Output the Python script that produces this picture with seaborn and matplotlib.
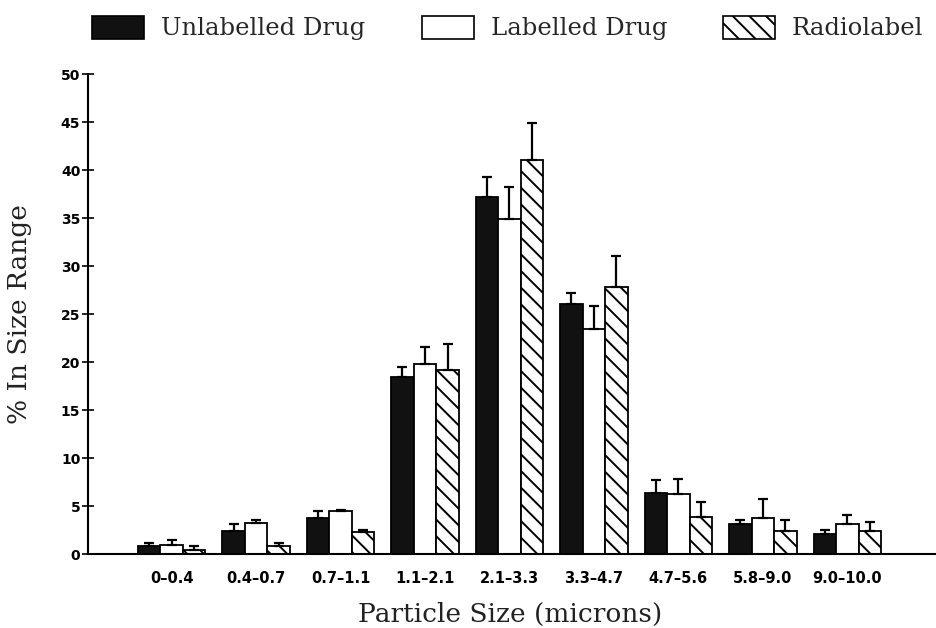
import numpy as np
import pandas as pd
import matplotlib
matplotlib.use("Agg")
import matplotlib.pyplot as plt
import matplotlib.patches as mpatches
import seaborn as sns

categories = ["0\u20130.4", "0.4\u20130.7", "0.7\u20131.1", "1.1\u20132.1", "2.1\u20133.3",
              "3.3\u20134.7", "4.7\u20135.6", "5.8\u20139.0", "9.0\u201310.0"]
series = ["Unlabelled Drug", "Labelled Drug", "Radiolabel"]
unlabelled = [0.8, 2.4, 3.7, 18.4, 37.2, 26.0, 6.4, 3.1, 2.1]
unlabelled_err = [0.3, 0.7, 0.8, 1.1, 2.1, 1.2, 1.3, 0.4, 0.4]
labelled = [0.9, 3.25, 4.5, 19.8, 34.9, 23.4, 6.2, 3.7, 3.1]
labelled_err = [0.6, 0.3, 0.05, 1.8, 3.3, 2.4, 1.65, 2.0, 0.95]
radiolabel = [0.4, 0.85, 2.25, 19.2, 41.0, 27.8, 3.9, 2.4, 2.4]
radiolabel_err = [0.4, 0.3, 0.2, 2.7, 3.9, 3.2, 1.5, 1.1, 0.9]
yticks = [0, 5, 10, 15, 20, 25, 30, 35, 40, 45, 50]

values = [unlabelled, labelled, radiolabel]
errors = [unlabelled_err, labelled_err, radiolabel_err]

df = pd.DataFrame({
    "cat": categories * 3,
    "series": sum([[s] * len(categories) for s in series], []),
    "val": unlabelled + labelled + radiolabel,
})

sns.set_theme(style="white")
plt.rcParams["hatch.linewidth"] = 1.4

fig = plt.figure(figsize=(9.36, 6.28), dpi=100)
ax = fig.add_axes([88 / 936, 1 - 554 / 628, 1 - 88 / 936, (554 - 74) / 628])

sns.barplot(data=df, x="cat", y="val", hue="series", order=categories, hue_order=series,
            palette=["#111111", "white", "white"], edgecolor="black", linewidth=1.3,
            width=0.8, errorbar=None, legend=False, ax=ax, saturation=1)

bar_containers = list(ax.containers)
for i, cont in enumerate(bar_containers):
    xs = [p.get_x() + p.get_width() / 2 for p in cont.patches]
    for p in cont.patches:
        p.set_edgecolor("black")
        if i == 2:
            p.set_hatch("\\\\")
    ax.errorbar(xs, values[i], yerr=[np.zeros(len(xs)), errors[i]], fmt="none",
                ecolor="black", elinewidth=1.6, capsize=3.8, capthick=1.6, zorder=1)

ax.set_ylim(0, 50)
ax.set_xlim(-0.99, 9.05)
ax.set_yticks(yticks)
ax.set_yticklabels([str(t) for t in yticks], fontsize=10, fontweight="bold", family="DejaVu Sans")
ax.set_xticks(range(len(categories)))
ax.set_xticklabels(categories, fontsize=10.5, fontweight="bold", family="DejaVu Sans")
ax.tick_params(axis="y", direction="inout", length=9, width=1.2, pad=1, left=True, colors="black")
ax.tick_params(axis="x", length=0, pad=12, colors="black")
for s in ["top", "right"]:
    ax.spines[s].set_visible(False)
for s in ["left", "bottom"]:
    ax.spines[s].set_color("black")
    ax.spines[s].set_linewidth(1.5)

ax.set_xlabel("Particle Size (microns)", fontsize=19, family="DejaVu Serif", color="#222222")
ax.set_ylabel("% In Size Range", fontsize=19, family="DejaVu Serif", color="#222222")
ax.xaxis.set_label_coords(0.498, -0.100)
ax.yaxis.set_label_coords(-0.066, 0.5)

handles = [
    mpatches.Patch(facecolor="#111111", edgecolor="black", linewidth=1.2, label=series[0]),
    mpatches.Patch(facecolor="white", edgecolor="black", linewidth=1.2, label=series[1]),
    mpatches.Patch(facecolor="white", edgecolor="black", linewidth=1.2, hatch="\\\\", label=series[2]),
]
fig.legend(handles=handles, loc="center", bbox_to_anchor=(508 / 936, 1 - 28 / 628), ncol=3,
           frameon=False, prop={"family": "DejaVu Serif", "size": 17.5},
           handlelength=2.14, handleheight=1.07, handletextpad=0.7, columnspacing=2.3,
           borderpad=0.0)

fig.savefig("out.png", dpi=100)
